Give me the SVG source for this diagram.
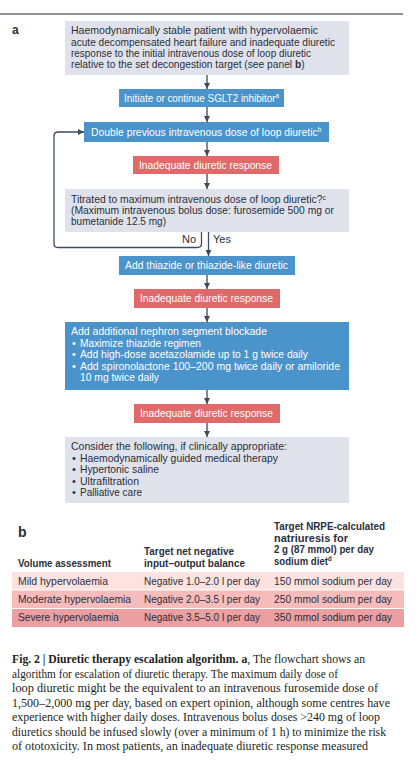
<svg xmlns="http://www.w3.org/2000/svg" width="419" height="761" viewBox="0 0 419 761">
<defs>
<marker id="ah" viewBox="0 0 6 6" refX="6" refY="3" markerWidth="6" markerHeight="6" markerUnits="userSpaceOnUse" orient="auto">
<path d="M0,0 L6,3 L0,6 z" fill="#3e4a5e"/>
</marker>
<style>
.t{font-family:"Liberation Sans",Arial,sans-serif;font-size:11px;fill:#2b2f3a}
.w{font-family:"Liberation Sans",Arial,sans-serif;font-size:11px;fill:#ffffff}
.tb{font-family:"Liberation Sans",Arial,sans-serif;font-size:11px;fill:#2b2f3a;font-weight:bold}
.grey{fill:#dfe2ea}
.blue{fill:#4b93cb}
.red{fill:#e06a6a}
.c{font-family:"Liberation Serif","Times New Roman",serif;font-size:12px;fill:#231f20}
.sup{font-size:7px}
.conn{stroke:#3e4a5e;stroke-width:1.3;fill:none}
</style>
</defs>
<rect width="419" height="761" fill="#ffffff"/>
<line x1="0" y1="14" x2="403" y2="14" stroke="#231f20" stroke-width="1"/>
<text x="12" y="34" class="tb" style="font-size:12px">a</text>

<g id="n1">
<rect class="grey" x="65" y="21" width="284" height="54"/>
<text class="t" x="71" y="34.3" textLength="247" lengthAdjust="spacingAndGlyphs">Haemodynamically stable patient with hypervolaemic</text>
<text class="t" x="71" y="45.6" textLength="264" lengthAdjust="spacingAndGlyphs">acute decompensated heart failure and inadequate diuretic</text>
<text class="t" x="71" y="57" textLength="240" lengthAdjust="spacingAndGlyphs">response to the initial intravenous dose of loop diuretic</text>
<text class="t" transform="translate(71,68.3) scale(0.931,1)">relative to the set decongestion target (see panel <tspan font-weight="bold">b</tspan>)</text>
</g>

<g id="n2">
<rect class="blue" x="119" y="89" width="165" height="18"/>
<text class="w" transform="translate(124,101.7) scale(0.9,1)">Initiate or continue SGLT2 inhibitor<tspan class="sup" dy="-3.5">a</tspan></text>
</g>

<g id="n3">
<rect class="blue" x="84" y="122" width="245" height="20"/>
<text class="w" transform="translate(91,135.7) scale(0.942,1)">Double previous intravenous dose of loop diuretic<tspan class="sup" dy="-3.5">b</tspan></text>
</g>

<g id="n4">
<rect class="red" x="133" y="156" width="146" height="18"/>
<text class="w" x="139" y="168.7" textLength="133" lengthAdjust="spacingAndGlyphs">Inadequate diuretic response</text>
</g>

<g id="n5">
<rect class="grey" x="65" y="189" width="284" height="43"/>
<text class="t" transform="translate(71,203) scale(0.941,1)">Titrated to maximum intravenous dose of loop diuretic?<tspan class="sup" dy="-3.5">c</tspan></text>
<text class="t" x="71" y="214" textLength="263" lengthAdjust="spacingAndGlyphs">(Maximum intravenous bolus dose: furosemide 500 mg or</text>
<text class="t" x="71" y="225" textLength="95" lengthAdjust="spacingAndGlyphs">bumetanide 12.5 mg)</text>
</g>

<g id="n6">
<rect class="blue" x="119" y="256" width="176" height="19"/>
<text class="w" x="125" y="269" textLength="163" lengthAdjust="spacingAndGlyphs">Add thiazide or thiazide-like diuretic</text>
</g>

<g id="n7">
<rect class="red" x="134" y="289" width="146" height="19"/>
<text class="w" x="140" y="302" textLength="133" lengthAdjust="spacingAndGlyphs">Inadequate diuretic response</text>
</g>

<g id="n8">
<rect class="blue" x="65" y="322" width="284" height="68"/>
<text class="w" x="71" y="335" textLength="196" lengthAdjust="spacingAndGlyphs">Add additional nephron segment blockade</text>
<text class="w" x="72" y="346.5">•</text>
<text class="w" x="80" y="346.5" textLength="121" lengthAdjust="spacingAndGlyphs">Maximize thiazide regimen</text>
<text class="w" x="72" y="358">•</text>
<text class="w" x="80" y="358" textLength="228" lengthAdjust="spacingAndGlyphs">Add high-dose acetazolamide up to 1 g twice daily</text>
<text class="w" x="72" y="369.5">•</text>
<text class="w" x="80" y="369.5" textLength="260" lengthAdjust="spacingAndGlyphs">Add spironolactone 100–200 mg twice daily or amiloride</text>
<text class="w" x="80" y="381" textLength="79" lengthAdjust="spacingAndGlyphs">10 mg twice daily</text>
</g>

<g id="n9">
<rect class="red" x="134" y="404" width="146" height="19"/>
<text class="w" x="140" y="417" textLength="133" lengthAdjust="spacingAndGlyphs">Inadequate diuretic response</text>
</g>

<g id="n10">
<rect class="grey" x="65" y="437" width="284" height="66"/>
<text class="t" x="71" y="450" textLength="216" lengthAdjust="spacingAndGlyphs">Consider the following, if clinically appropriate:</text>
<text class="t" x="72" y="461.5">•</text>
<text class="t" x="80" y="461.5" textLength="198" lengthAdjust="spacingAndGlyphs">Haemodynamically guided medical therapy</text>
<text class="t" x="72" y="473">•</text>
<text class="t" x="80" y="473" textLength="79" lengthAdjust="spacingAndGlyphs">Hypertonic saline</text>
<text class="t" x="72" y="484.5">•</text>
<text class="t" x="80" y="484.5" textLength="59" lengthAdjust="spacingAndGlyphs">Ultrafiltration</text>
<text class="t" x="72" y="496">•</text>
<text class="t" x="80" y="496" textLength="62" lengthAdjust="spacingAndGlyphs">Palliative care</text>
</g>

<g id="connectors">
<line class="conn" x1="207" y1="75" x2="207" y2="89" marker-end="url(#ah)"/>
<line class="conn" x1="207" y1="107" x2="207" y2="122" marker-end="url(#ah)"/>
<line class="conn" x1="207" y1="142" x2="207" y2="156" marker-end="url(#ah)"/>
<line class="conn" x1="207" y1="174" x2="207" y2="189" marker-end="url(#ah)"/>
<line class="conn" x1="208.5" y1="232" x2="208.5" y2="256" marker-end="url(#ah)"/>
<line class="conn" x1="207" y1="275" x2="207" y2="289" marker-end="url(#ah)"/>
<line class="conn" x1="207" y1="308" x2="207" y2="322" marker-end="url(#ah)"/>
<line class="conn" x1="207" y1="390" x2="207" y2="404" marker-end="url(#ah)"/>
<line class="conn" x1="207" y1="423" x2="207" y2="437" marker-end="url(#ah)"/>
<path class="conn" d="M201.5,232 V243.5 Q201.5,247.5 197.5,247.5 H58 Q54,247.5 54,243.5 V136 Q54,132 58,132 H84" marker-end="url(#ah)"/>
<text class="t" x="196" y="243" text-anchor="end">No</text>
<text class="t" x="213" y="243">Yes</text>
</g>

<g id="table">
<text x="18" y="537" class="tb" style="font-size:14px">b</text>
<text class="tb" x="18" y="567" textLength="93" lengthAdjust="spacingAndGlyphs">Volume assessment</text>
<text class="tb" x="144" y="555" textLength="90" lengthAdjust="spacingAndGlyphs">Target net negative</text>
<text class="tb" x="144" y="566.5" textLength="101" lengthAdjust="spacingAndGlyphs">input–output balance</text>
<text class="tb" x="274" y="530" textLength="111" lengthAdjust="spacingAndGlyphs">Target NRPE-calculated</text>
<text class="tb" x="274" y="541.5" textLength="74" lengthAdjust="spacingAndGlyphs">natriuresis for</text>
<text class="tb" x="274" y="553" textLength="100" lengthAdjust="spacingAndGlyphs">2 g (87 mmol) per day</text>
<text class="tb" transform="translate(274,564.5) scale(0.875,1)">sodium diet<tspan class="sup" dy="-3.5">d</tspan></text>
<rect x="12" y="572" width="392" height="17.5" fill="#fde2e0"/>
<rect x="12" y="590.5" width="392" height="17.5" fill="#f5bcbb"/>
<rect x="12" y="609" width="392" height="18" fill="#eb9fa1"/>
<text class="t" x="18" y="584.5" textLength="90" lengthAdjust="spacingAndGlyphs">Mild hypervolaemia</text>
<text class="t" x="144" y="584.5" textLength="116" lengthAdjust="spacingAndGlyphs">Negative 1.0–2.0 l per day</text>
<text class="t" x="274" y="584.5" textLength="118" lengthAdjust="spacingAndGlyphs">150 mmol sodium per day</text>
<text class="t" x="18" y="602.5" textLength="113" lengthAdjust="spacingAndGlyphs">Moderate hypervolaemia</text>
<text class="t" x="144" y="602.5" textLength="116" lengthAdjust="spacingAndGlyphs">Negative 2.0–3.5 l per day</text>
<text class="t" x="274" y="602.5" textLength="118" lengthAdjust="spacingAndGlyphs">250 mmol sodium per day</text>
<text class="t" x="18" y="621" textLength="101" lengthAdjust="spacingAndGlyphs">Severe hypervolaemia</text>
<text class="t" x="144" y="621" textLength="116" lengthAdjust="spacingAndGlyphs">Negative 3.5–5.0 l per day</text>
<text class="t" x="274" y="621" textLength="118" lengthAdjust="spacingAndGlyphs">350 mmol sodium per day</text>
</g>

<g id="caption">
<text class="c" x="12" y="663" textLength="353" lengthAdjust="spacingAndGlyphs"><tspan font-weight="bold">Fig. 2 | Diuretic therapy escalation algorithm. a</tspan>, The flowchart shows an</text>
<text class="c" x="12" y="677.5" textLength="326" lengthAdjust="spacingAndGlyphs">algorithm for escalation of diuretic therapy. The maximum daily dose of</text>
<text class="c" x="12" y="692" textLength="366" lengthAdjust="spacingAndGlyphs">loop diuretic might be the equivalent to an intravenous furosemide dose of</text>
<text class="c" x="12" y="706.5" textLength="378" lengthAdjust="spacingAndGlyphs">1,500–2,000 mg per day, based on expert opinion, although some centres have</text>
<text class="c" x="12" y="721" textLength="368" lengthAdjust="spacingAndGlyphs">experience with higher daily doses. Intravenous bolus doses &gt;240 mg of loop</text>
<text class="c" x="12" y="735.5" textLength="374" lengthAdjust="spacingAndGlyphs">diuretics should be infused slowly (over a minimum of 1 h) to minimize the risk</text>
<text class="c" x="12" y="750" textLength="356" lengthAdjust="spacingAndGlyphs">of ototoxicity. In most patients, an inadequate diuretic response measured</text>
</g>
</svg>
